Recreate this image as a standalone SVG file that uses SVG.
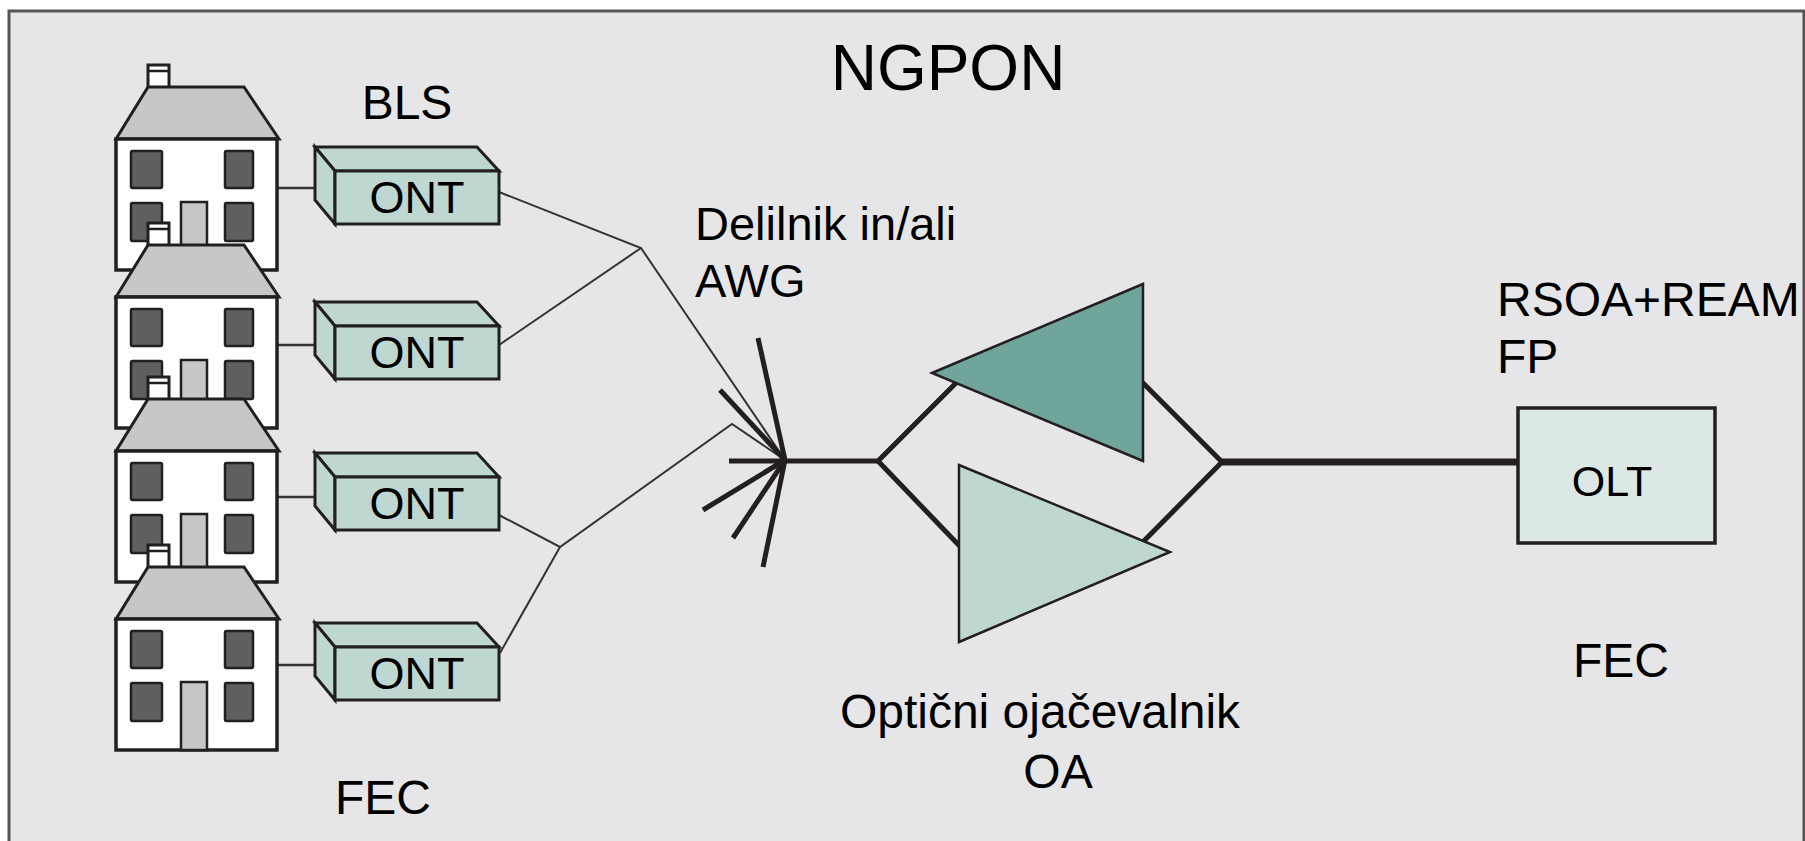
<svg xmlns="http://www.w3.org/2000/svg" xmlns:xlink="http://www.w3.org/1999/xlink" width="1805" height="841" viewBox="0 0 1805 841">
  <style>
    .lbl { font-family: "Liberation Sans", Arial, sans-serif; fill: #000; }
    .wall { fill: #ffffff; stroke: #231f20; stroke-width: 3.5; }
    .roof { fill: #c6c7c9; stroke: #231f20; stroke-width: 3; }
    .win { fill: #5f5f62; stroke: #231f20; stroke-width: 2.5; }
    .door { fill: #c6c7c9; stroke: #231f20; stroke-width: 2.5; }
    .chim { fill: #ffffff; stroke: #231f20; stroke-width: 3; }
    .ont { fill: #bfd7d1; stroke: #231f20; stroke-width: 3; stroke-linejoin: miter; }
    .thin { fill: none; stroke: #333333; stroke-width: 2; }
    .thick { fill: none; stroke: #231f20; stroke-width: 5; }
    .drop { fill: none; stroke: #333333; stroke-width: 2.5; }
  </style>
  <defs>
    <!-- house with body top edge at y=0 -->
    <g id="house">
      <rect class="chim" x="148" y="-74" width="21" height="29"/>
      <line x1="148" y1="-68" x2="169" y2="-68" stroke="#231f20" stroke-width="2.5"/>
      <polygon class="roof" points="148,-52 244,-52 279,0 116,0"/>
      <rect class="wall" x="116" y="0" width="161" height="131"/>
      <rect class="win" x="131" y="12" width="31" height="37" rx="1.5"/>
      <rect class="win" x="225" y="12" width="28" height="37" rx="1.5"/>
      <rect class="win" x="131" y="64" width="31" height="38" rx="1.5"/>
      <rect class="win" x="225" y="64" width="28" height="38" rx="1.5"/>
      <rect class="door" x="181" y="63" width="26" height="68"/>
    </g>
    <!-- ONT box with front face top edge at y=0 -->
    <g id="ontbox">
      <polygon class="ont" points="315,-24 477,-24 499,0 335,0"/>
      <polygon class="ont" points="315,-24 335,0 335,53 315,29"/>
      <rect class="ont" x="335" y="0" width="164" height="53"/>
      <text class="lbl" x="417" y="42" font-size="45" text-anchor="middle">ONT</text>
    </g>
  </defs>

  <!-- frame -->
  <rect x="0" y="0" width="1805" height="841" fill="#ffffff"/>
  <rect x="9" y="11" width="1795" height="850" fill="#e6e6e8" stroke="#555555" stroke-width="3"/>

  <!-- connectors -->
  <g id="connectors">
    <line class="drop" x1="277" y1="188" x2="315" y2="188"/>
    <line class="drop" x1="277" y1="345" x2="315" y2="345"/>
    <line class="drop" x1="277" y1="497" x2="315" y2="497"/>
    <line class="drop" x1="277" y1="665" x2="315" y2="665"/>
    <polyline class="thin" points="499,192 641,248 785,460"/>
    <polyline class="thin" points="499,345 641,248"/>
    <polyline class="thin" points="499,515 560,547 732,424 785,460"/>
    <polyline class="thin" points="500,653 560,547"/>
    <!-- splitter fan -->
    <line class="thick" x1="758" y1="338" x2="785" y2="460"/>
    <line class="thick" x1="720" y1="390" x2="785" y2="460"/>
    <line class="thick" x1="729" y1="461" x2="878" y2="461"/>
    <line class="thick" x1="703" y1="510" x2="785" y2="460"/>
    <line class="thick" x1="733" y1="538" x2="785" y2="460"/>
    <line class="thick" x1="763" y1="567" x2="785" y2="460"/>
    <!-- amplifier branches -->
    <polyline class="thick" points="975,364 878,461 975,562"/>
    <polyline class="thick" points="1130,370 1222,462 1130,555"/>
    <line x1="1222" y1="462" x2="1518" y2="462" stroke="#231f20" stroke-width="7"/>
  </g>

  <!-- houses -->
  <g id="house1"><use xlink:href="#house" transform="translate(0,139)"/></g>
  <g id="house2"><use xlink:href="#house" transform="translate(0,297)"/></g>
  <g id="house3"><use xlink:href="#house" transform="translate(0,451)"/></g>
  <g id="house4"><use xlink:href="#house" transform="translate(0,619)"/></g>

  <!-- ONTs -->
  <g id="ont1"><use xlink:href="#ontbox" transform="translate(0,171)"/></g>
  <g id="ont2"><use xlink:href="#ontbox" transform="translate(0,326)"/></g>
  <g id="ont3"><use xlink:href="#ontbox" transform="translate(0,477)"/></g>
  <g id="ont4"><use xlink:href="#ontbox" transform="translate(0,647)"/></g>

  <!-- optical amplifier -->
  <g id="amplifier">
    <polygon points="932,373 1143,284 1143,461" fill="#6fa59b" stroke="#231f20" stroke-width="2.5"/>
    <polygon points="959,465 1170,552 959,642" fill="#bfd7d1" stroke="#231f20" stroke-width="2.5"/>
  </g>

  <!-- OLT -->
  <g id="olt">
    <rect x="1518" y="408" width="197" height="135" fill="#dce8e5" stroke="#231f20" stroke-width="3.5"/>
    <text class="lbl" x="1612" y="496" font-size="43" text-anchor="middle">OLT</text>
  </g>

  <!-- labels -->
  <g id="labels">
    <text class="lbl" x="948" y="90" font-size="64" text-anchor="middle">NGPON</text>
    <text class="lbl" x="407" y="119" font-size="48" text-anchor="middle">BLS</text>
    <text class="lbl" x="695" y="240" font-size="47">Delilnik in/ali</text>
    <text class="lbl" x="695" y="297" font-size="47">AWG</text>
    <text class="lbl" x="1497" y="316" font-size="48">RSOA+REAM</text>
    <text class="lbl" x="1497" y="373" font-size="48">FP</text>
    <text class="lbl" x="1621" y="677" font-size="48" text-anchor="middle">FEC</text>
    <text class="lbl" x="1040" y="728" font-size="48" text-anchor="middle">Optični ojačevalnik</text>
    <text class="lbl" x="1058" y="788" font-size="48" text-anchor="middle">OA</text>
    <text class="lbl" x="383" y="814" font-size="48" text-anchor="middle">FEC</text>
  </g>
</svg>
